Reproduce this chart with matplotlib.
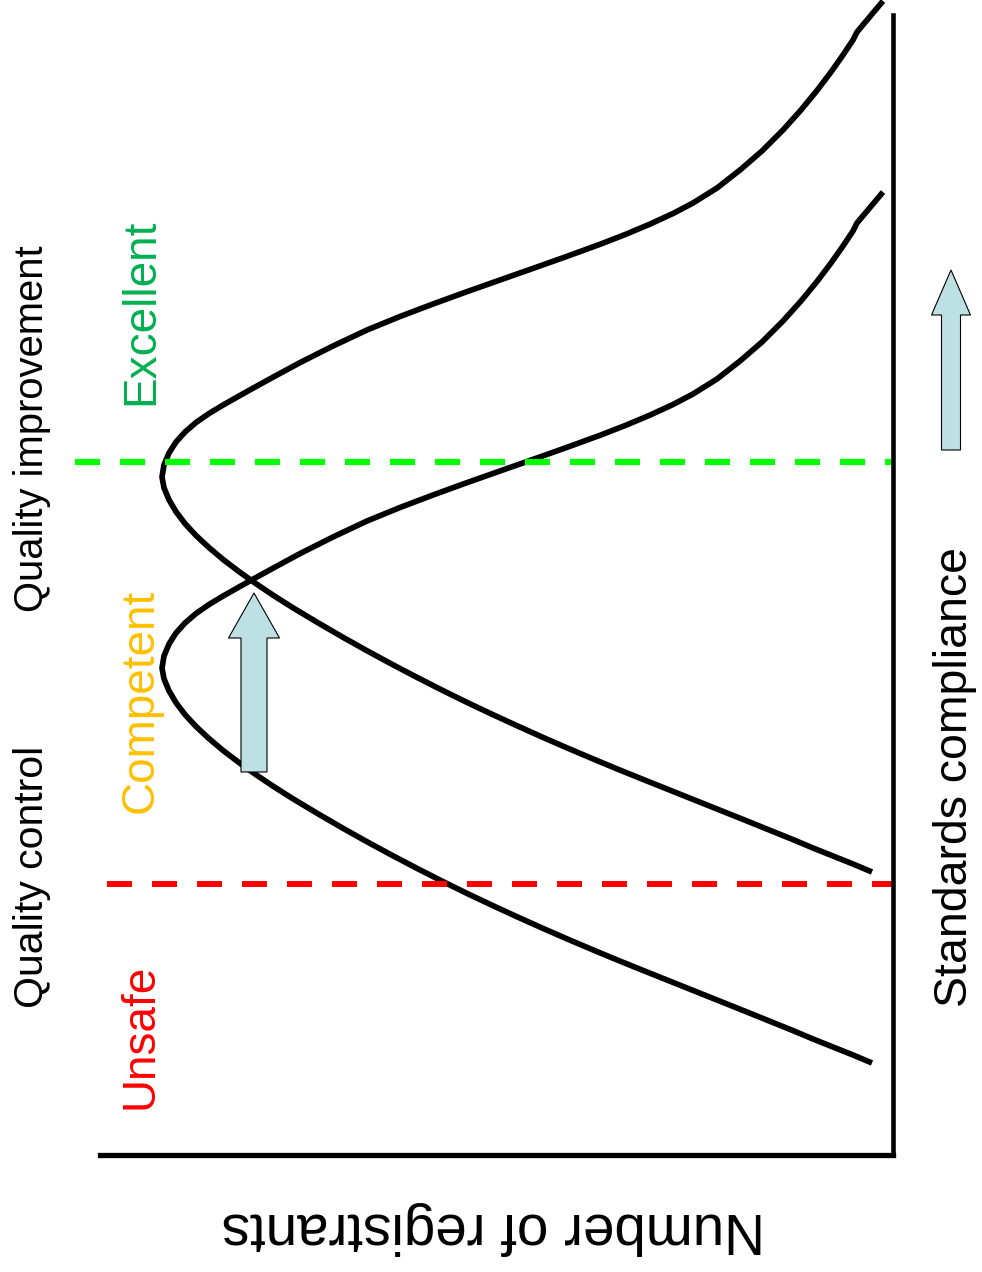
#_______________________________ LIBRARIES ____________________________________
import matplotlib
matplotlib.use('Agg')
import matplotlib.pyplot as plt
from matplotlib.patches import FancyArrow

#_______________________________ DATA _________________________________________
# registrants (counted from the compliance axis) vs standards compliance,
# both

# registrant counts along each curve (same shape for both curves)
reg_now = [21, 40, 60, 80, 100, 125, 150, 175, 200, 225, 250, 275, 300, 325,
           350, 375, 400, 425, 450, 475, 500, 525, 550, 575, 600, 619, 637,
           654, 670, 684, 697, 708, 717, 724, 729, 731,
           729, 724, 717, 708, 697, 684, 669, 654, 640, 620, 593, 560, 526,
           493, 460, 427, 393, 360, 327, 293, 268, 243, 220, 200, 176, 153,
           131, 110, 92, 76, 62, 50, 40, 36, 10]
reg_up = list(reg_now)

# current distribution (lower curve)
comp_now = [92, 100, 108, 116, 124.4, 134.5, 144.6, 154.6, 164.6, 174.6, 184.6,
            194.7, 205.1, 215.7, 226.6, 237.8, 249.3, 261.1, 273.4, 286.1,
            299.2, 312.7, 326.7, 341.2, 356.2, 368.2, 380.3, 392.4, 404.6,
            416.4, 428.5, 440.4, 452.3, 464.2, 476.2, 487,
            499, 511, 522, 532, 541.5, 550.5, 559.5, 568, 575.8, 586.8, 601.4,
            618, 634, 647.5, 660, 672, 684, 695.6, 707.3, 719.7, 729.4, 739.9,
            750.5, 761, 776, 794, 813, 834, 854, 873.5, 892, 909, 924, 932, 963]

# improved distribution (upper curve)
comp_up = [283, 291, 299, 307, 315.4, 325.5, 335.6, 345.6, 355.6, 365.6, 375.6,
           385.7, 396.1, 406.7, 417.6, 428.8, 440.3, 452.1, 464.4, 477.1,
           490.2, 503.7, 517.7, 532.2, 547.2, 559.2, 571.3, 583.4, 595.6,
           607.4, 619.5, 631.4, 643.3, 655.2, 667.2, 678,
           690, 702, 713, 723, 732.5, 741.5, 750.5, 759, 766.8, 777.8, 792.4,
           809, 825, 838.5, 851, 863, 875, 886.6, 898.3, 910.7, 920.4, 930.9,
           941.5, 952, 967, 985, 1004, 1025, 1045, 1064.5, 1083, 1100, 1115,
           1123, 1154]

# thresholds on the compliance axis
level_excellent = 693
level_unsafe = 271

# category labels, their compliance position and colour
cat_names = ['Excellent', 'Competent', 'Unsafe']
cat_pos = [843, 454, 119]
cat_colors = ['#00B050', '#FFC000', '#FF0000']

# arrows: registrants position, start and end compliance
arrow_reg = [639, -58]
arrow_from = [383, 705]
arrow_to = [562, 885]

#_______________________________ FIGURE _______________________________________
W, H = 982, 1272
plt.rcParams['font.family'] = ['Liberation Sans', 'DejaVu Sans']
plt.rcParams['lines.scale_dashes'] = False

fig = plt.figure(figsize=(W / 100, H / 100), dpi=100)

def px(x, y):
    # pixel position -> figure fraction
    return x / W, 1 - y / H

# axes box: left 100px, right 893px, top 15px, bottom 1155px
ax = fig.add_axes([100 / W, (H - 1155) / H, 793 / W, 1140 / H])
ax.set_xlim(793, 0)
ax.set_ylim(0, 1140)
ax.set_xticks([])
ax.set_yticks([])
ax.patch.set_alpha(0)
ax.spines['left'].set_visible(False)
ax.spines['top'].set_visible(False)
ax.spines['right'].set_linewidth(3.3)
ax.spines['bottom'].set_linewidth(3.8)
ax.spines['right'].set_capstyle('projecting')
ax.spines['bottom'].set_capstyle('projecting')

# distributions
for r, c in [(reg_now, comp_now), (reg_up, comp_up)]:
    ax.plot(r, c, color='black', lw=4.1, clip_on=False,
            solid_capstyle='butt', solid_joinstyle='round')

# threshold lines
ax.plot([818, 0], [level_excellent, level_excellent], color='#00FF00', lw=4.5,
        dashes=(18, 14.4), clip_on=False, dash_capstyle='butt')
ax.plot([786, 0], [level_unsafe, level_unsafe], color='#FF0000', lw=4.3,
        dashes=(18, 14.4), clip_on=False, dash_capstyle='butt')

# arrows
arrow_dims = [(26, 51, 45), (19, 39, 45)]
for i in range(len(arrow_reg)):
    w, hw, hl = arrow_dims[i]
    ar = FancyArrow(arrow_reg[i], arrow_from[i], 0, arrow_to[i] - arrow_from[i],
                    width=w, head_width=hw, head_length=hl,
                    length_includes_head=True, facecolor='#BCE0E3',
                    edgecolor='black', lw=0.8, clip_on=False, zorder=3)
    ax.add_patch(ar)

#_______________________________ TEXTS ________________________________________
kw = dict(rotation=90, rotation_mode='anchor', ha='center', va='baseline')

# category labels (baseline on the right side of the glyphs)
for name, pos, col in zip(cat_names, cat_pos, cat_colors):
    ax.text(740, pos, name, color=col, fontsize=33, clip_on=False, **kw)

fig.text(*px(43, 429), 'Quality improvement', fontsize=28.8, **kw)
fig.text(*px(43, 877), 'Quality control', fontsize=29.5, **kw)
fig.text(*px(967, 777), 'Standards compliance', fontsize=33.4, **kw)
fig.text(*px(493, 1213), 'Number of registrants', fontsize=40.7,
         rotation=180, rotation_mode='anchor', ha='center', va='baseline')

plt.savefig('out.png', dpi=100)
